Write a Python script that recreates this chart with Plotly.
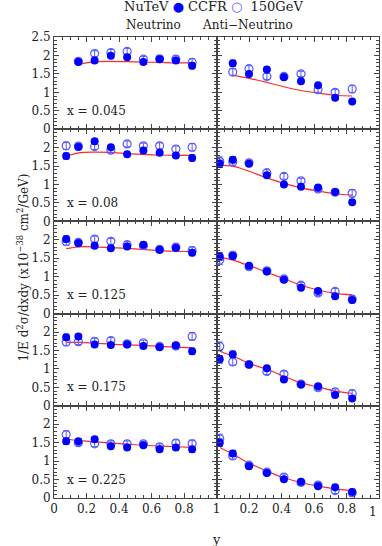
import plotly.graph_objects as go
from plotly.subplots import make_subplots

# y bins
y_nu = [0.075, 0.15, 0.25, 0.35, 0.45, 0.55, 0.65, 0.75, 0.85]
y_anu = [0.02, 0.1, 0.2, 0.31, 0.415, 0.52, 0.625, 0.73, 0.835]
x_labels = ["x = 0.045", "x = 0.08", "x = 0.125", "x = 0.175", "x = 0.225"]

# neutrino, filled (NuTeV)
nu_nutev = [
    [None, 1.82, 1.86, 1.99, 1.95, 1.82, 1.90, 1.86, 1.72],
    [1.77, 2.02, 2.17, 2.01, 1.82, 1.92, 1.86, 1.79, 1.72],
    [2.02, 1.91, 1.84, 1.77, 1.82, 1.87, 1.73, 1.78, 1.65],
    [1.86, 1.88, 1.66, 1.65, 1.66, 1.62, 1.59, 1.64, 1.48],
    [1.54, 1.54, 1.59, 1.40, 1.37, 1.43, 1.32, 1.37, 1.32],
]
# neutrino, open (CCFR)
nu_ccfr = [
    [None, 1.84, 2.05, 2.08, 2.11, 1.90, 1.91, 1.90, 1.81],
    [2.05, 2.04, 2.03, 1.93, 2.10, 2.05, 2.05, 1.96, 2.01],
    [1.95, 1.93, 2.02, 1.96, 1.87, 1.84, 1.74, 1.80, 1.71],
    [1.73, 1.74, 1.75, 1.77, 1.68, 1.71, 1.61, 1.62, 1.88],
    [1.72, 1.50, 1.47, 1.47, 1.47, 1.47, 1.39, 1.49, 1.47],
]
nu_model = [
    [None, 1.76, 1.83, 1.84, 1.83, 1.82, 1.81, 1.80, 1.80],
    [1.77, 1.86, 1.88, 1.87, 1.84, 1.82, 1.80, 1.79, 1.79],
    [1.76, 1.81, 1.81, 1.79, 1.77, 1.74, 1.71, 1.69, 1.68],
    [1.72, 1.72, 1.70, 1.67, 1.65, 1.64, 1.61, 1.59, 1.57],
    [1.60, 1.56, 1.52, 1.49, 1.46, 1.43, 1.41, 1.39, 1.37],
]

# anti-neutrino
anu_nutev = [
    [None, 1.79, 1.50, 1.62, 1.41, 1.30, 1.19, 0.85, 0.75],
    [1.56, 1.67, 1.56, 1.25, 1.00, 0.94, 0.92, 0.80, 0.52],
    [1.55, 1.56, 1.30, 1.14, 0.92, 0.70, 0.61, 0.47, 0.37],
    [1.26, 1.40, 1.12, 1.02, 0.71, 0.58, 0.53, 0.29, 0.20],
    [1.50, 1.21, 0.86, 0.68, 0.51, 0.44, 0.32, 0.29, 0.16],
]
anu_ccfr = [
    [None, 1.55, 1.64, 1.43, 1.43, 1.50, 1.07, 1.00, 1.09],
    [1.63, 1.61, 1.59, 1.32, 1.22, 1.10, 0.88, 0.79, 0.76],
    [1.45, 1.58, 1.27, 1.16, 0.94, 0.77, 0.56, 0.60, 0.39],
    [1.61, 1.19, 1.12, 0.93, 0.86, 0.59, 0.49, 0.38, 0.33],
    [1.61, 1.14, 0.89, 0.70, 0.57, 0.42, 0.35, 0.20, 0.14],
]
anu_model = [
    [None, 1.46, 1.38, 1.27, 1.15, 1.05, 0.98, 0.92, 0.90],
    [1.52, 1.50, 1.36, 1.18, 1.03, 0.91, 0.82, 0.75, 0.71],
    [1.54, 1.45, 1.30, 1.12, 0.95, 0.77, 0.64, 0.55, 0.51],
    [1.48, 1.35, 1.15, 0.99, 0.80, 0.62, 0.51, 0.40, 0.34],
    [1.37, 1.19, 0.95, 0.73, 0.55, 0.42, 0.32, 0.25, 0.20],
]

err_nu_nutev = [0.08, 0.06, 0.06, 0.06, 0.06, 0.06, 0.06, 0.07, 0.08]
err_nu_ccfr = [0.10, 0.08, 0.08, 0.08, 0.08, 0.07, 0.08, 0.09, 0.10]
err_anu_nutev = [0.10, 0.08, 0.06, 0.06, 0.05, 0.05, 0.05, 0.05, 0.05]
err_anu_ccfr = [0.12, 0.09, 0.08, 0.08, 0.08, 0.07, 0.07, 0.08, 0.10]

BLUE = "#0000ff"
LIGHT = "#5a5aff"
RED = "#ff2a2a"
FONT = "DejaVu Serif"

fig = make_subplots(rows=5, cols=2, horizontal_spacing=0, vertical_spacing=0)

columns = [
    (1, y_nu, nu_nutev, nu_ccfr, nu_model, err_nu_nutev, err_nu_ccfr),
    (2, y_anu, anu_nutev, anu_ccfr, anu_model, err_anu_nutev, err_anu_ccfr),
]

for col, xs, filled, opened, model, ef, eo in columns:
    for r in range(5):
        row = r + 1
        fig.add_trace(go.Scatter(x=xs, y=model[r], mode="lines", line_shape="spline",
                                 line=dict(color=RED, width=1.2), showlegend=False),
                      row=row, col=col)
        fig.add_trace(go.Scatter(x=xs, y=opened[r], mode="markers",
                                 marker=dict(symbol="circle-open", size=8, color=LIGHT,
                                             line=dict(width=1.2, color=LIGHT)),
                                 error_y=dict(type="data", array=eo, color=LIGHT,
                                              thickness=1, width=3),
                                 showlegend=False),
                      row=row, col=col)
        fig.add_trace(go.Scatter(x=xs, y=filled[r], mode="markers",
                                 marker=dict(symbol="circle", size=8, color=BLUE),
                                 error_y=dict(type="data", array=ef, color=BLUE,
                                              thickness=1, width=3),
                                 showlegend=False),
                      row=row, col=col)

axis_common = dict(showline=True, linecolor="#444", linewidth=1, mirror="ticks",
                   ticks="inside", tickcolor="#444", showgrid=False, zeroline=False,
                   automargin=False, ticklabeloverflow="allow",
                   tickfont=dict(family=FONT, size=12, color="#222"))

x_minor = [i / 20 for i in range(21) if i % 4]
y_minor = [i / 10 for i in range(26) if i % 5]

for r in range(5):
    row = r + 1
    for col in (1, 2):
        xt = [0, 0.2, 0.4, 0.6, 0.8, 1] if col == 1 else [0.2, 0.4, 0.6, 0.8]
        fig.update_xaxes(range=[0, 1], ticklen=5, tickmode="array", tickvals=xt,
                         ticktext=[f"{v:g}" for v in xt],
                         showticklabels=(row == 5),
                         minor=dict(tickmode="array", tickvals=x_minor, ticklen=3,
                                    ticks="inside", tickcolor="#444"),
                         row=row, col=col, **axis_common)
        yt = [0, 0.5, 1, 1.5, 2, 2.5] if row == 1 else [0, 0.5, 1, 1.5, 2]
        fig.update_yaxes(range=[0, 2.5], ticklen=5, tickmode="array", tickvals=yt,
                         ticktext=[f"{v:g}" for v in yt],
                         showticklabels=(col == 1),
                         minor=dict(tickmode="array", tickvals=y_minor, ticklen=3,
                                    ticks="inside", tickcolor="#444"),
                         row=row, col=col, **axis_common)
    fig.add_annotation(x=0.07, y=0.5, xref=f"x{2 * r + 1 if r else ''}", yref=f"y{2 * r + 1 if r else ''}",
                       text=x_labels[r], showarrow=False, xanchor="left", yanchor="middle",
                       font=dict(family=FONT, size=12, color="#222"))

txt = dict(family=FONT, size=12, color="#222")
# last tick label of the right column sits at the page edge
fig.add_annotation(x=1, y=-0.011, xref="x10", yref="paper", text="1",
                   xanchor="right", yanchor="top", showarrow=False, font=txt)
fig.add_annotation(x=0.215, y=1.026, xref="paper", yref="paper", text="Neutrino",
                   yanchor="middle", showarrow=False, font=txt)
fig.add_annotation(x=0.742, y=1.026, xref="paper", yref="paper", text="Anti\u2212Neutrino",
                   yanchor="middle", showarrow=False, font=txt)
legend_text = (f"NuTeV <span style='color:{BLUE}'>\u25cf</span> CCFR "
               f"<span style='color:{LIGHT}'>\u25cb</span>  150GeV")
fig.add_annotation(x=0.49, y=1.066, xref="paper", yref="paper", text=legend_text,
                   yanchor="middle", showarrow=False,
                   font=dict(family=FONT, size=13, color="#222"))
fig.add_annotation(x=-0.129, y=0.5, xref="paper", yref="paper", textangle=-90,
                   text="1/E d<sup>2</sup>\u03c3/dxdy (x10<sup>\u221238</sup> cm<sup>2</sup>/GeV)",
                   showarrow=False, font=txt)
fig.add_annotation(x=0.5, y=-0.09, xref="paper", yref="paper", text="y",
                   yanchor="middle", showarrow=False,
                   font=dict(family=FONT, size=13, color="#222"))

fig.update_layout(width=382, height=546, margin=dict(l=54, r=3, t=37, b=48),
                  plot_bgcolor="white", paper_bgcolor="white", showlegend=False)

fig.write_html("out.html", config={"displayModeBar": False},
               post_script="document.body.style.margin='0';")
